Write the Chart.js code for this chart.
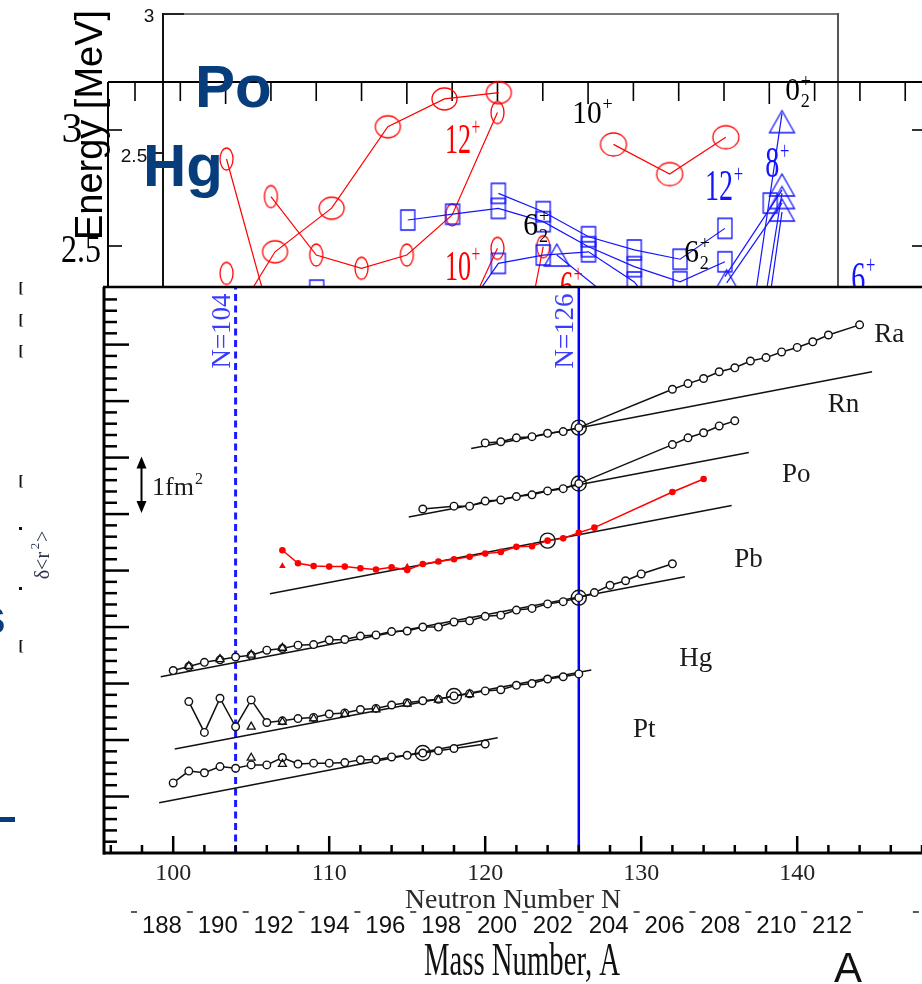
<!DOCTYPE html>
<html>
<head>
<meta charset="utf-8">
<script src="https://cdn.jsdelivr.net/npm/chart.js@4.4.1/dist/chart.umd.min.js"></script>
<style>
  html, body { margin: 0; padding: 0; background: #fff; }
  #wrap { position: relative; width: 922px; height: 984px; overflow: hidden; }
  canvas { position: absolute; left: 0; top: 0; }
</style>
</head>
<body>
<div id="wrap">
  <canvas id="energy" width="922" height="287"></canvas>
  <canvas id="radii" width="922" height="984"></canvas>
</div>
<script>
// ---------------------------------------------------------------- data ----
// main panel: δ<r²> (fm², each element shifted) against neutron number N
const N_LABELS = [100, 110, 120, 130, 140];
const A_LABELS = [188, 190, 192, 194, 196, 198, 200, 202, 204, 206, 208, 210, 212];
const SHELLS = [104, 126];
const ELEMENTS = ['Ra', 'Rn', 'Po', 'Pb', 'Hg', 'Pt'];
const ELEMENT_AT = [[145.9, 9.18], [142.97, 7.93], [139.94, 6.69], [136.88, 5.19], [133.5, 3.43], [130.2, 2.18]];

const PT = [[100, 1.24], [101, 1.45], [102, 1.42], [103, 1.53], [104, 1.50], [105, 1.56], [106, 1.56],
  [107, 1.69], [108, 1.575], [109, 1.59], [110, 1.59], [111, 1.60], [112, 1.65], [113, 1.65],
  [114, 1.70], [115, 1.73], [116, 1.77], [117, 1.81], [118, 1.85], [120, 1.93]];
const PT_TRI = [[105, 1.685], [107, 1.575]];
const PT_FIT = [[99.1, 0.89], [120.8, 2.04]];

const HG = [[101, 2.68], [102, 2.135], [103, 2.74], [104, 2.235], [105, 2.71], [106, 2.31], [107, 2.34],
  [108, 2.38], [109, 2.40], [110, 2.46], [111, 2.48], [112, 2.54], [113, 2.56], [114, 2.62], [115, 2.66],
  [116, 2.695], [117, 2.72], [118, 2.78], [119, 2.82], [120, 2.87], [121, 2.89], [122, 2.97], [123, 3.00],
  [124, 3.08], [125, 3.12], [126, 3.17]];
const HG_TRI = [[105, 2.235], [107, 2.32], [109, 2.38], [111, 2.46], [113, 2.54], [115, 2.64], [117, 2.71], [119, 2.81]];
const HG_FIT = [[100.1, 1.84], [126.8, 3.24]];

const PB = [[100, 3.23], [101, 3.30], [102, 3.375], [103, 3.42], [104, 3.47], [105, 3.50], [106, 3.59],
  [107, 3.62], [108, 3.68], [109, 3.69], [110, 3.77], [111, 3.78], [112, 3.84], [113, 3.86], [114, 3.92],
  [115, 3.93], [116, 4.00], [117, 4.00], [118, 4.09], [119, 4.11], [120, 4.19], [121, 4.21], [122, 4.30],
  [123, 4.33], [124, 4.41], [125, 4.45], [126, 4.52], [127, 4.61], [128, 4.74], [129, 4.82], [130, 4.94],
  [132, 5.12]];
const PB_TRI = [[101, 3.31], [103, 3.43], [105, 3.51], [107, 3.63]];
const PB_FIT = [[99.2, 3.12], [132.8, 4.89]];

const PO = [[107, 5.36], [108, 5.13], [109, 5.08], [110, 5.07], [111, 5.07], [112, 5.04], [113, 5.02],
  [114, 5.06], [115, 5.01], [116, 5.115], [117, 5.16], [118, 5.20], [119, 5.245], [120, 5.30], [121, 5.33],
  [122, 5.42], [123, 5.43], [124, 5.53], [125, 5.57], [126, 5.67], [127, 5.76], [132, 6.39], [134, 6.62]];
const PO_TRI = [[107, 5.08], [115, 5.07], [117, 5.15]];
const PO_FIT = [[106.2, 4.59], [135.8, 6.15]];

const RN = [[116, 6.09], [118, 6.14], [119, 6.14], [120, 6.23], [121, 6.25], [122, 6.31], [123, 6.34],
  [124, 6.41], [125, 6.45], [126, 6.54], [132, 7.23], [133, 7.35], [134, 7.44], [135, 7.56], [136, 7.65]];
const RN_FIT = [[115.1, 5.95], [136.9, 7.09]];

const RA = [[120, 7.26], [121, 7.28], [122, 7.35], [123, 7.37], [124, 7.43], [125, 7.46], [126, 7.53],
  [132, 8.21], [133, 8.31], [134, 8.40], [135, 8.52], [136, 8.59], [137, 8.71], [138, 8.77], [139, 8.87],
  [140, 8.95], [141, 9.05], [142, 9.17], [144, 9.35]];
const RA_FIT = [[119.1, 7.16], [144.8, 8.52]];

const RINGS = [[116, 1.77], [118, 2.78], [126, 4.52], [124, 5.53], [126, 6.54], [126, 7.53]];
const SCALE_BAR = [6.02, 7.02]; // the "1 fm²" arrow

// upper panel: level energies (MeV) on its own running index
const E_RED_A = [[2.03, 2.138], [3.09, 2.475], [4.34, 2.663], [5.58, 3.014], [6.83, 3.134], [8.03, 3.161]];
const E_RED_B = [[2.02, 2.875], [3.06, 2.138]];
const E_RED_C = [[3, 2.713], [4, 2.461], [5, 2.404], [6, 2.461], [7, 2.634], [8, 3.075]];
const E_RED_D = [[8, 2.49], [7.17, 2.138]];
const E_RED_E = [[9.01, 2.497], [8.65, 2.138]];
const E_RED_F = [[2.02, 2.382]];
const E_RED_G = [[10.56, 2.938], [11.80, 2.810], [13.04, 2.969]];
const E_BLUE_A = [[8.02, 2.727], [9.01, 2.648], [10.01, 2.540], [11.02, 2.483], [12.03, 2.443], [13.02, 2.576]];
const E_BLUE_B = [[6.02, 2.612], [7.01, 2.637], [8.02, 2.662], [9.01, 2.605], [10.01, 2.497], [11.02, 2.411],
  [12.03, 2.346], [13.02, 2.432]];
const E_BLUE_C = [[7.0, 2.138], [8.02, 2.425], [9.01, 2.461], [10.01, 2.475], [11.02, 2.345], [11.6, 2.2]];
const E_BLUE_SQ = [[14.02, 2.685], [4.01, 2.31]];
const E_BLUE_TRI = [[14.28, 3.036], [14.28, 2.763], [14.28, 2.709], [14.28, 2.655], [13.06, 2.35], [9.31, 2.461]];
const E_BLUE_SEGS = [
  [[9.31, 2.461], [11.37, 2.138]],
  [[13.02, 2.368], [14.28, 2.741]],
  [[13.06, 2.341], [14.28, 2.685]],
  [[13.58, 2.138], [14.28, 3.072]],
  [[13.80, 2.138], [14.28, 2.728]],
  [[13.91, 2.138], [14.28, 2.647]],
];
const E_TICKS_Y = [2.5, 3];

// level tags of the upper panel: [x, y, text, subscript, superscript, colour key]
const LEVEL_TAGS = [
  [6.84, 2.901, '12', '', '+', 'red'], [6.84, 2.353, '10', '', '+', 'red'], [9.38, 2.267, '6', '', '+', 'red'],
  [9.65, 3.030, '10', '', '+', 'black'], [14.35, 3.129, '0', '2', '+', 'black'],
  [8.57, 2.547, '6', '2', '+', 'black'], [12.12, 2.431, '6', '2', '+', 'black'],
  [12.58, 2.698, '12', '', '+', 'blue'], [13.91, 2.797, '8', '', '+', 'blue'], [15.81, 2.302, '6', '', '+', 'blue'],
];

// ------------------------------------------------------------ helpers ----
const SERIF = '"Liberation Serif", "DejaVu Serif", serif';
const SANS = '"Liberation Sans", Arial, sans-serif';
const INK = '#111';
const RED = '#ff0000';
const BLUE = '#1414ff';
const NAVY = '#073d7a';

function marker(w, h, color, path) {
  const c = document.createElement('canvas');
  c.width = w + 4; c.height = h + 4;
  const g = c.getContext('2d');
  g.strokeStyle = color; g.lineWidth = 1.3;
  g.beginPath(); path(g, c.width / 2, c.height / 2, w / 2, h / 2); g.stroke();
  return c;
}
const ellipse = (w, h, c) => marker(w, h, c, (g, x, y, rx, ry) => g.ellipse(x, y, rx, ry, 0, 0, Math.PI * 2));
const box = (w, h, c) => marker(w, h, c, (g, x, y, rx, ry) => g.rect(x - rx, y - ry, 2 * rx, 2 * ry));
const tri = (w, h, c) => marker(w, h, c, (g, x, y, rx, ry) => {
  g.moveTo(x, y - ry); g.lineTo(x + rx, y + ry); g.lineTo(x - rx, y + ry); g.closePath();
});

function seg(ctx, x1, y1, x2, y2) { ctx.beginPath(); ctx.moveTo(x1, y1); ctx.lineTo(x2, y2); ctx.stroke(); }

// text with optional sub/superscript, left/baseline anchored
function tex(ctx, px, py, base, sub, sup, size, color, sx) {
  ctx.save();
  ctx.translate(px, py); ctx.scale(sx || 1, 1);
  ctx.fillStyle = color; ctx.textAlign = 'left'; ctx.textBaseline = 'alphabetic';
  ctx.font = `${size}px ${SERIF}`;
  ctx.fillText(base, 0, 0);
  const w = ctx.measureText(base).width;
  ctx.font = `${Math.round(size * 0.6)}px ${SERIF}`;
  if (sub) ctx.fillText(sub, w + 1, size * 0.22);
  if (sup) ctx.fillText(sup, w + 1, -size * 0.42);
  ctx.restore();
}

// text squeezed or stretched to a given width, centred
function fitText(ctx, t, cx, by, font, width) {
  ctx.save();
  ctx.font = font; ctx.textAlign = 'left'; ctx.textBaseline = 'alphabetic';
  const k = width / ctx.measureText(t).width;
  ctx.translate(cx - width / 2, by); ctx.scale(k, 1);
  ctx.fillText(t, 0, 0);
  ctx.restore();
}

// -------------------------------------------------------- upper panel ----
const TAG_STYLE = {
  red: { color: RED, size: 42, sx: 0.62 },
  blue: { color: BLUE, size: 44, sx: 0.64 },
  black: { color: '#000', size: 31, sx: 0.95 },
};

const energyFrame = {
  id: 'energyFrame',
  beforeDatasetsDraw(chart) {
    const { ctx, chartArea: a, scales: { x, y } } = chart;
    ctx.save();
    // frame of the panel lying underneath
    ctx.lineWidth = 2;
    ctx.strokeStyle = '#777'; seg(ctx, 163, 14, 838, 14);
    ctx.strokeStyle = '#222'; seg(ctx, 163, 14, 184, 14); seg(ctx, 155, 153, 163, 153);
    ctx.strokeStyle = '#111'; seg(ctx, 163, 13, 163, 287);
    ctx.strokeStyle = '#555'; seg(ctx, 838, 13, 838, 287);
    ctx.fillStyle = '#111'; ctx.font = `19px ${SANS}`;
    ctx.textAlign = 'center'; ctx.textBaseline = 'middle';
    ctx.fillText('3', 149, 17);
    ctx.fillText('2.5', 134, 157);
    // this panel's own axes
    ctx.strokeStyle = '#000'; ctx.lineWidth = 2;
    seg(ctx, a.left, a.top, a.right, a.top);
    seg(ctx, a.left, a.top, a.left, a.bottom);
    ctx.lineWidth = 1.6;
    for (let i = 0; i <= 17; i++) {
      const px = x.getPixelForValue(i);
      seg(ctx, px, a.top, px, a.top + (i % 4 === 2 ? 22 : 19));
    }
    E_TICKS_Y.forEach(v => {
      const py = y.getPixelForValue(v);
      seg(ctx, a.left, py, a.left + 14, py);
      seg(ctx, a.right - 10, py, a.right, py);
    });
    ctx.restore();
  },
  afterDraw(chart) {
    const { ctx, scales: { x, y } } = chart;
    LEVEL_TAGS.forEach(([vx, vy, base, sub, sup, key]) => {
      const s = TAG_STYLE[key];
      tex(ctx, x.getPixelForValue(vx), y.getPixelForValue(vy), base, sub, sup, s.size, s.color, s.sx);
    });
    ctx.save();
    ctx.fillStyle = '#000';
    ctx.font = `42px ${SERIF}`; ctx.textAlign = 'center'; ctx.textBaseline = 'middle';
    ctx.fillText('3', 72, 131);
    fitText(ctx, '2.5', 81, 262, `40px ${SERIF}`, 40);
    ctx.save();
    ctx.translate(102, 125); ctx.rotate(-Math.PI / 2);
    ctx.font = `38px ${SANS}`; ctx.textAlign = 'center'; ctx.textBaseline = 'alphabetic';
    ctx.fillText('Energy [MeV]', 0, 0);
    ctx.restore();
    ctx.fillStyle = NAVY; ctx.font = `bold 60px ${SANS}`;
    ctx.textAlign = 'left'; ctx.textBaseline = 'alphabetic';
    ctx.fillText('Po', 195, 107);
    ctx.fillText('Hg', 143, 186);
    ctx.restore();
  },
};

const bigRed = ellipse(25, 22, RED), tallRed = ellipse(13, 22, RED), rowRed = ellipse(26, 23, RED);
const sqBlue = box(14, 20, BLUE), triBlue = tri(25, 22, BLUE);

function eSeries(data, color, style) {
  return { data, borderColor: color, borderWidth: 1.2, pointStyle: style || false,
    pointRadius: style ? 10 : 0, showLine: true, tension: 0, clip: false };
}

new Chart(document.getElementById('energy'), {
  type: 'line',
  data: {
    datasets: [
      { data: E_BLUE_TRI, showLine: false, pointStyle: triBlue, pointRadius: 10, clip: false },
      { data: E_BLUE_SQ, showLine: false, pointStyle: sqBlue, pointRadius: 10, clip: false },
      ...E_BLUE_SEGS.map(s => eSeries(s, BLUE)),
      eSeries(E_BLUE_A, BLUE, sqBlue),
      eSeries(E_BLUE_B, BLUE, sqBlue),
      eSeries(E_BLUE_C, BLUE, sqBlue),
      eSeries(E_RED_A, RED, bigRed),
      eSeries(E_RED_B, RED, tallRed),
      eSeries(E_RED_C, RED, tallRed),
      eSeries(E_RED_D, RED, tallRed),
      eSeries(E_RED_E, RED, tallRed),
      eSeries(E_RED_F, RED, tallRed),
      eSeries(E_RED_G, RED, rowRed),
    ],
  },
  options: {
    responsive: false, animation: false, devicePixelRatio: 1, events: [],
    layout: { autoPadding: false, padding: { left: 108, top: 82, right: 0, bottom: 0 } },
    scales: {
      x: { type: 'linear', min: -0.596, max: 17.37, display: false },
      y: { type: 'linear', min: 2.3233, max: 3.2069, display: false },
    },
    plugins: { legend: { display: false }, tooltip: { enabled: false } },
  },
  plugins: [energyFrame],
});

// --------------------------------------------------------- main panel ----
const radiiFrame = {
  id: 'radiiFrame',
  afterDraw(chart) {
    const { ctx, chartArea: a, scales: { x, y, xA } } = chart;
    ctx.save();
    ctx.strokeStyle = '#000';
    ctx.lineWidth = 2.5;
    for (let n = 96; n <= 148; n += 2) {
      const px = x.getPixelForValue(n);
      seg(ctx, px, a.bottom, px, a.bottom - (n % 10 === 0 ? 17 : 8));
    }
    for (let k = 1; k < 50; k++) {
      const py = y.getPixelForValue(k / 5);
      seg(ctx, a.left, py, a.left + (k % 5 === 0 ? 26 : 14), py);
    }
    ctx.lineWidth = 3;
    seg(ctx, a.left + 1, a.top, a.left + 1, a.bottom + 1.5);
    seg(ctx, a.left, a.bottom, a.right, a.bottom);
    ctx.lineWidth = 2.5;
    seg(ctx, a.left, a.top, a.right, a.top);

    // shell labels
    ctx.fillStyle = '#3c3cff'; ctx.font = `27px ${SERIF}`;
    ctx.textAlign = 'center'; ctx.textBaseline = 'alphabetic';
    SHELLS.forEach(n => {
      ctx.save();
      ctx.translate(x.getPixelForValue(n) - 6, a.top + 44); ctx.rotate(-Math.PI / 2);
      ctx.fillText('N=' + n, 0, 0);
      ctx.restore();
    });

    // element names
    ctx.fillStyle = '#1a1a1a'; ctx.font = `27px ${SERIF}`; ctx.textBaseline = 'middle';
    ELEMENTS.forEach((el, i) => {
      ctx.fillText(el, x.getPixelForValue(ELEMENT_AT[i][0]), y.getPixelForValue(ELEMENT_AT[i][1]));
    });

    // 1 fm² scale arrow
    const ax = 141.5, y0 = y.getPixelForValue(SCALE_BAR[0]), y1 = y.getPixelForValue(SCALE_BAR[1]);
    ctx.lineWidth = 2;
    seg(ctx, ax, y1 + 8, ax, y0 - 8);
    ctx.fillStyle = '#000';
    ctx.beginPath(); ctx.moveTo(ax, y1); ctx.lineTo(ax - 5, y1 + 12); ctx.lineTo(ax + 5, y1 + 12); ctx.fill();
    ctx.beginPath(); ctx.moveTo(ax, y0); ctx.lineTo(ax - 5, y0 - 12); ctx.lineTo(ax + 5, y0 - 12); ctx.fill();
    tex(ctx, 152, (y0 + y1) / 2 + 10, '1fm', '', '2', 26, '#1a1a1a', 1);

    // bottom axis text
    ctx.fillStyle = '#222'; ctx.textAlign = 'center'; ctx.textBaseline = 'middle';
    ctx.font = `24px ${SERIF}`;
    N_LABELS.forEach(n => ctx.fillText(String(n), x.getPixelForValue(n), 874));
    ctx.fillStyle = '#2a2a2a';
    fitText(ctx, 'Neutron Number N', 513, 908, `27px ${SERIF}`, 216);
    ctx.fillStyle = '#111';
    ctx.font = `24px ${SANS}`; ctx.textBaseline = 'middle';
    A_LABELS.forEach(m => ctx.fillText(String(m), xA.getPixelForValue(m), 926));
    ctx.strokeStyle = '#222'; ctx.lineWidth = 1.5;
    for (let m = 187; m <= 215; m += 2) {
      const px = xA.getPixelForValue(m);
      seg(ctx, px - 3, 912, px + 3, 912);
    }
    fitText(ctx, 'Mass Number, A', 522, 975, `46px ${SERIF}`, 196);
    ctx.font = `42px ${SANS}`; ctx.textAlign = 'center'; ctx.textBaseline = 'alphabetic';
    ctx.fillText('A', 848, 982);

    // left margin leftovers of the slide
    ctx.save();
    ctx.translate(49, 555); ctx.rotate(-Math.PI / 2);
    ctx.fillStyle = '#2a3550'; ctx.font = `20px ${SERIF}`; ctx.textAlign = 'center';
    ctx.fillText('δ<r  >', 0, 0);
    ctx.font = `13px ${SERIF}`; ctx.fillText('2', 9, -10);
    ctx.restore();
    ctx.fillStyle = '#111'; ctx.font = `bold 15px ${SERIF}`; ctx.textAlign = 'center';
    [292, 324, 355, 485, 650].forEach(py => ctx.fillText('[', 21, py));
    ctx.fillRect(19, 527, 3, 3); ctx.fillRect(19, 587, 3, 3);
    ctx.fillStyle = NAVY;
    ctx.font = `bold 50px ${SANS}`; ctx.textAlign = 'left'; ctx.textBaseline = 'alphabetic';
    ctx.fillText('s', -22, 634);
    ctx.fillRect(0, 817, 15, 5);
    ctx.restore();
  },
};

function chainSet(data, color, filled) {
  return { data, borderColor: color, borderWidth: 1.5, tension: 0,
    pointRadius: filled ? 3.3 : 3.8, pointBorderWidth: filled ? 0 : 1.4,
    pointBorderColor: color, pointBackgroundColor: filled ? color : '#fff' };
}
const fitSet = data => ({ data, borderColor: INK, borderWidth: 1.5, pointRadius: 0, tension: 0 });

new Chart(document.getElementById('radii'), {
  type: 'line',
  data: {
    datasets: [
      { data: RINGS, showLine: false, pointRadius: 7.5, pointBorderWidth: 1.4,
        pointBorderColor: INK, pointBackgroundColor: 'rgba(0,0,0,0)' },
      { data: PT_TRI.concat(HG_TRI, PB_TRI), showLine: false, pointStyle: 'triangle', pointRadius: 4.6,
        pointBorderWidth: 1.3, pointBorderColor: INK, pointBackgroundColor: 'rgba(0,0,0,0)' },
      { data: PO_TRI, showLine: false, pointStyle: 'triangle', pointRadius: 3.8,
        pointBorderWidth: 0, pointBackgroundColor: RED },
      chainSet(RA, INK), chainSet(RN, INK), chainSet(PO, RED, true),
      chainSet(PB, INK), chainSet(HG, INK), chainSet(PT, INK),
      fitSet(RA_FIT), fitSet(RN_FIT), fitSet(PO_FIT), fitSet(PB_FIT), fitSet(HG_FIT), fitSet(PT_FIT),
      { data: [[SHELLS[0], 0], [SHELLS[0], 10.02]], borderColor: '#1a1aff', borderWidth: 3,
        borderDash: [7, 4.5], pointRadius: 0 },
      { data: [[SHELLS[1], 0], [SHELLS[1], 10.02]], borderColor: '#0000ff', borderWidth: 2.5, pointRadius: 0 },
    ],
  },
  options: {
    responsive: false, animation: false, devicePixelRatio: 1, events: [],
    layout: { autoPadding: false, padding: { left: 103, top: 287, right: 0, bottom: 131 } },
    scales: {
      x: { type: 'linear', min: 95.5, max: 148, display: false },
      xA: { type: 'linear', axis: 'x', position: 'bottom', min: 185.89, max: 215.22, display: false },
      y: { type: 'linear', min: 0, max: 10.02, display: false },
    },
    plugins: { legend: { display: false }, tooltip: { enabled: false } },
  },
  plugins: [radiiFrame],
});
</script>
</body>
</html>
